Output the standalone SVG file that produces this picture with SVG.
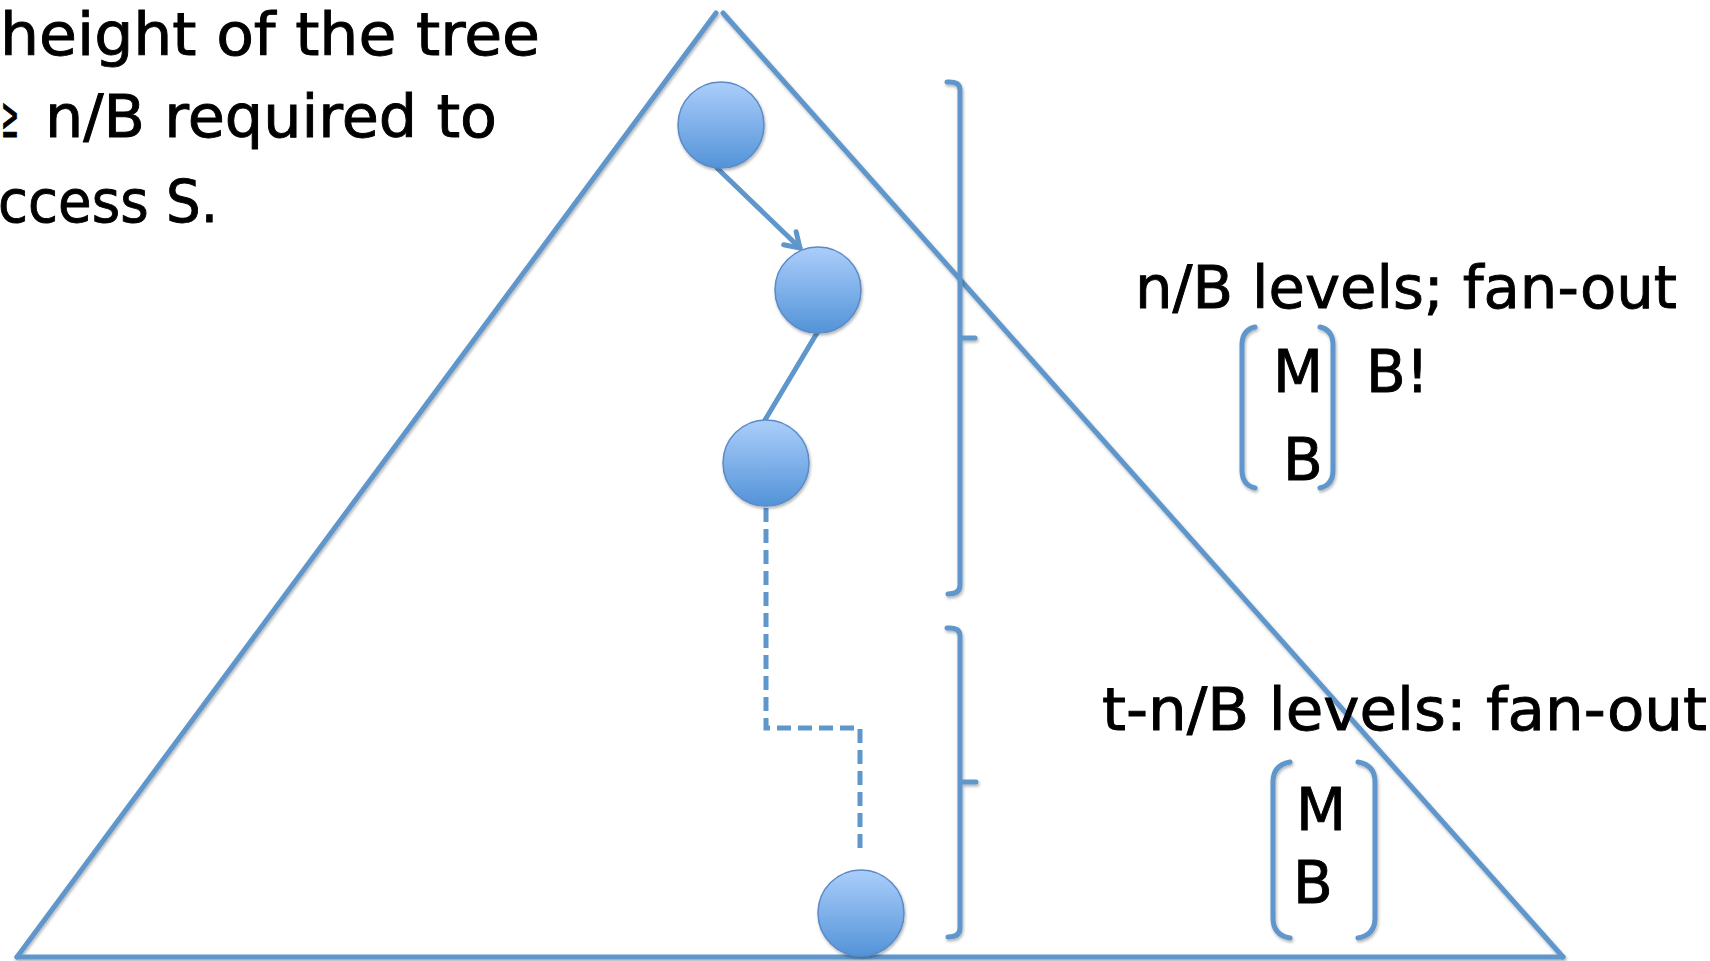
<svg xmlns="http://www.w3.org/2000/svg" width="1710" height="961" viewBox="0 0 1710 961">
<style>
.t{font-family:"DejaVu Sans","Liberation Sans",sans-serif;font-size:58px;fill:#000;stroke:#000;stroke-width:0.9}
.ln{fill:none;stroke:#5f96cb;stroke-width:5;stroke-linecap:round;stroke-linejoin:round}
.br{fill:none;stroke:#5f96cb;stroke-width:5;stroke-linecap:round;stroke-linejoin:round}
.node{fill:url(#g);stroke:#5a8bc6;stroke-width:1.5}
.dash{fill:none;stroke:#5f96cb;stroke-width:5;stroke-dasharray:14 7}
</style>
<defs>
<linearGradient id="g" x1="0" y1="0" x2="0" y2="1">
<stop offset="0" stop-color="#abcefb"/>
<stop offset="1" stop-color="#5393d8"/>
</linearGradient>
<filter id="sh" x="-20%" y="-20%" width="140%" height="140%">
<feDropShadow dx="1" dy="2" stdDeviation="1.5" flood-color="#000" flood-opacity="0.3"/>
</filter>
<marker id="arr" viewBox="-20 -15 30 30" markerWidth="30" markerHeight="30" refX="0" refY="0" orient="auto" markerUnits="userSpaceOnUse">
<path d="M-14,-9 L0,0 L-14,9" fill="none" stroke="#5f96cb" stroke-width="5" stroke-linecap="round" stroke-linejoin="round"/>
</marker>
</defs>
<rect width="1710" height="961" fill="#fff"/>
<g id="tree" filter="url(#sh)">
<line class="ln" x1="716" y1="13" x2="17" y2="957"/>
<line class="ln" x1="723" y1="13" x2="1563" y2="957"/>
<line class="ln" x1="17" y1="957" x2="1563" y2="957"/>
</g>
<g id="braces" filter="url(#sh)">
<path class="br" d="M947,82 Q960,81 960,90 L960,585 Q960,594 948,594 M960,338 L975,338"/>
<path class="br" d="M947,628 Q960,627 960,636 L960,928 Q960,937 948,937 M960,782 L976,782"/>
</g>
<g id="connectors">
<line class="ln" x1="717" y1="168" x2="800" y2="248" marker-end="url(#arr)"/>
<line class="ln" x1="817" y1="333" x2="765" y2="420"/>
<path class="dash" d="M766,508 L766,728 L860,728 L860,853"/>
</g>
<g id="n1" filter="url(#sh)"><circle class="node" cx="721" cy="125" r="43"/></g>
<g id="n2" filter="url(#sh)"><circle class="node" cx="818" cy="290" r="43"/></g>
<g id="n3" filter="url(#sh)"><circle class="node" cx="766" cy="463" r="43"/></g>
<g id="n4" filter="url(#sh)"><circle class="node" cx="861" cy="913" r="43"/></g>
<g id="lefttext">
<text class="t" x="0" y="55" textLength="540" lengthAdjust="spacingAndGlyphs">height of the tree</text>
<text class="t" x="1" y="137" textLength="18" lengthAdjust="spacingAndGlyphs">≥</text>
<text class="t" x="45" y="137" textLength="452" lengthAdjust="spacingAndGlyphs">n/B required to</text>
<text class="t" x="-2" y="222" textLength="220" lengthAdjust="spacingAndGlyphs">ccess S.</text>
</g>
<g id="label1">
<text class="t" x="1135" y="308" textLength="542" lengthAdjust="spacingAndGlyphs">n/B levels; fan-out</text>
<g filter="url(#sh)">
<path class="br" d="M1255,327 Q1242,330 1242,345 L1242,470 Q1242,485 1255,488"/>
<path class="br" d="M1320,327 Q1333,330 1333,345 L1333,470 Q1333,485 1320,488"/>
</g>
<text class="t" x="1298" y="392" text-anchor="middle">M</text>
<text class="t" x="1303" y="480" text-anchor="middle">B</text>
<text class="t" x="1366" y="392">B!</text>
</g>
<g id="label2">
<text class="t" x="1102" y="730" textLength="605" lengthAdjust="spacingAndGlyphs">t-n/B levels: fan-out</text>
<g filter="url(#sh)">
<path class="br" d="M1290,762 Q1273,765 1273,782 L1273,918 Q1273,935 1290,938"/>
<path class="br" d="M1358,762 Q1375,765 1375,782 L1375,918 Q1375,935 1358,938"/>
</g>
<text class="t" x="1321" y="830" text-anchor="middle">M</text>
<text class="t" x="1313" y="903" text-anchor="middle">B</text>
</g>
</svg>
